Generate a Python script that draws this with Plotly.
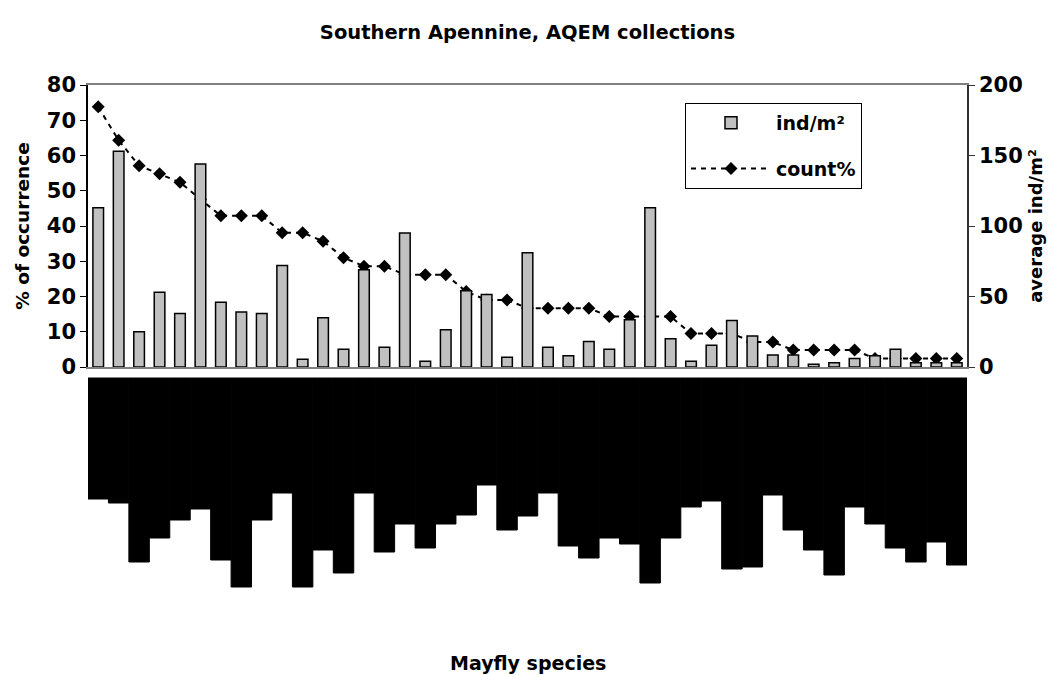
import plotly.graph_objects as go

# ---- data ----
species = [f"Species {i}" for i in range(1, 44)]

# average ind/m2 (right axis)
ind_m2 = [113, 153, 25, 53, 38, 144, 46, 39, 38, 72,
          5.5, 35, 12.5, 69, 14, 95, 4, 26.5, 54, 51.5,
          7, 81, 14, 8, 18, 12.5, 33.5, 113, 20, 4,
          15.5, 33, 22, 8.5, 8.5, 2, 3, 6, 8, 12.5,
          3, 3, 3]

# % of occurrence (left axis)
count_pct = [73.8, 64.3, 57.1, 54.8, 52.4, 47.6, 42.9, 42.9, 42.9, 38.1,
             38.1, 35.7, 31.0, 28.6, 28.6, 26.2, 26.2, 26.2, 21.4, 19.0,
             19.0, 16.7, 16.7, 16.7, 16.7, 14.3, 14.3, 14.3, 14.3, 9.5,
             9.5, 9.5, 7.1, 7.1, 4.8, 4.8, 4.8, 4.8, 2.4, 2.4,
             2.4, 2.4, 2.4]

# species-name labels below the axis appear as solid black blocks;
# their extent (start and end, below the axis) per category
label_start = [11] * 43
label_end = [132, 136, 195, 171, 153, 142, 193, 220, 153, 126,
             220, 183, 206, 126, 185, 157, 181, 157, 148, 118,
             163, 149, 126, 179, 191, 171, 177, 216, 171, 140,
             134, 202, 200, 128, 163, 183, 208, 140, 157, 181,
             195, 175, 198]
label_len = [e - s for s, e in zip(label_start, label_end)]

FONT = "DejaVu Sans"

fig = go.Figure()

fig.add_trace(go.Bar(
    x=species, y=ind_m2, yaxis="y2", name="ind/m²",
    width=0.52, marker=dict(color="#c0c0c0", line=dict(color="black", width=1.5)),
    legendgroup="a",
))

fig.add_trace(go.Scatter(
    x=species, y=count_pct, yaxis="y", name="count%", mode="lines+markers",
    line=dict(color="black", width=2, dash="5px,5px"),
    marker=dict(symbol="diamond", size=10, color="black"),
    legendgroup="b",
))

fig.add_trace(go.Bar(
    x=species, y=label_len, base=label_start, yaxis="y3", showlegend=False,
    width=1.0, marker=dict(color="black", line=dict(color="black", width=1)),
    hoverinfo="skip",
))

main_bottom = (600 - 367) / 515

fig.update_layout(
    width=1055, height=675,
    margin=dict(l=88, r=88, t=85, b=75),
    paper_bgcolor="white", plot_bgcolor="white",
    barmode="overlay",
    font=dict(family=FONT, color="black"),
    title=dict(text="<b>Southern Apennine, AQEM collections</b>",
               font=dict(family=FONT, size=19.5, color="black"),
               x=0.5, xanchor="center", y=1 - 32 / 675, yanchor="middle"),
    xaxis=dict(type="category", range=[-0.5, 42.5], showticklabels=False,
               ticks="", showgrid=False, zeroline=False,
               showline=True, linecolor="#808080", linewidth=1.5, mirror=True,
               anchor="y", automargin=False),
    yaxis=dict(domain=[main_bottom, 1], range=[0, 80], dtick=10,
               ticks="outside", ticklen=6, tickcolor="black", tickwidth=1,
               showline=True, linecolor="black", linewidth=1.5,
               showgrid=False, zeroline=False,
               tickfont=dict(family=FONT, size=21, color="black", weight="bold"),
               title=dict(text="<b>% of occurrence</b>", standoff=12,
                          font=dict(family=FONT, size=18.5, color="black")),
               automargin=False),
    yaxis2=dict(overlaying="y", side="right", range=[0, 200], dtick=50,
                ticks="outside", ticklen=6, tickcolor="#333333", tickwidth=1,
                showline=True, linecolor="#333333", linewidth=1.5,
                showgrid=False, zeroline=False,
                tickfont=dict(family=FONT, size=21, color="black", weight="bold"),
                title=dict(text="<b>average ind/m²</b>", standoff=8,
                           font=dict(family=FONT, size=18, color="black")),
                automargin=False),
    yaxis3=dict(domain=[0, main_bottom], range=[233, 0], visible=False,
                anchor="x", showgrid=False, zeroline=False),
    legend=dict(x=(685 - 88) / 879, y=(600 - 103) / 515, xanchor="left", yanchor="top",
                bgcolor="white", bordercolor="black", borderwidth=1,
                font=dict(family=FONT, size=19, color="black", weight="bold"),
                tracegroupgap=18, itemwidth=80),
    annotations=[dict(text="<b>Mayfly species</b>", xref="paper", yref="paper",
                      x=0.5, y=(600 - 663) / 515, xanchor="center", yanchor="middle",
                      showarrow=False, font=dict(family=FONT, size=19, color="black"))],
)

fig.write_html("out.html")
